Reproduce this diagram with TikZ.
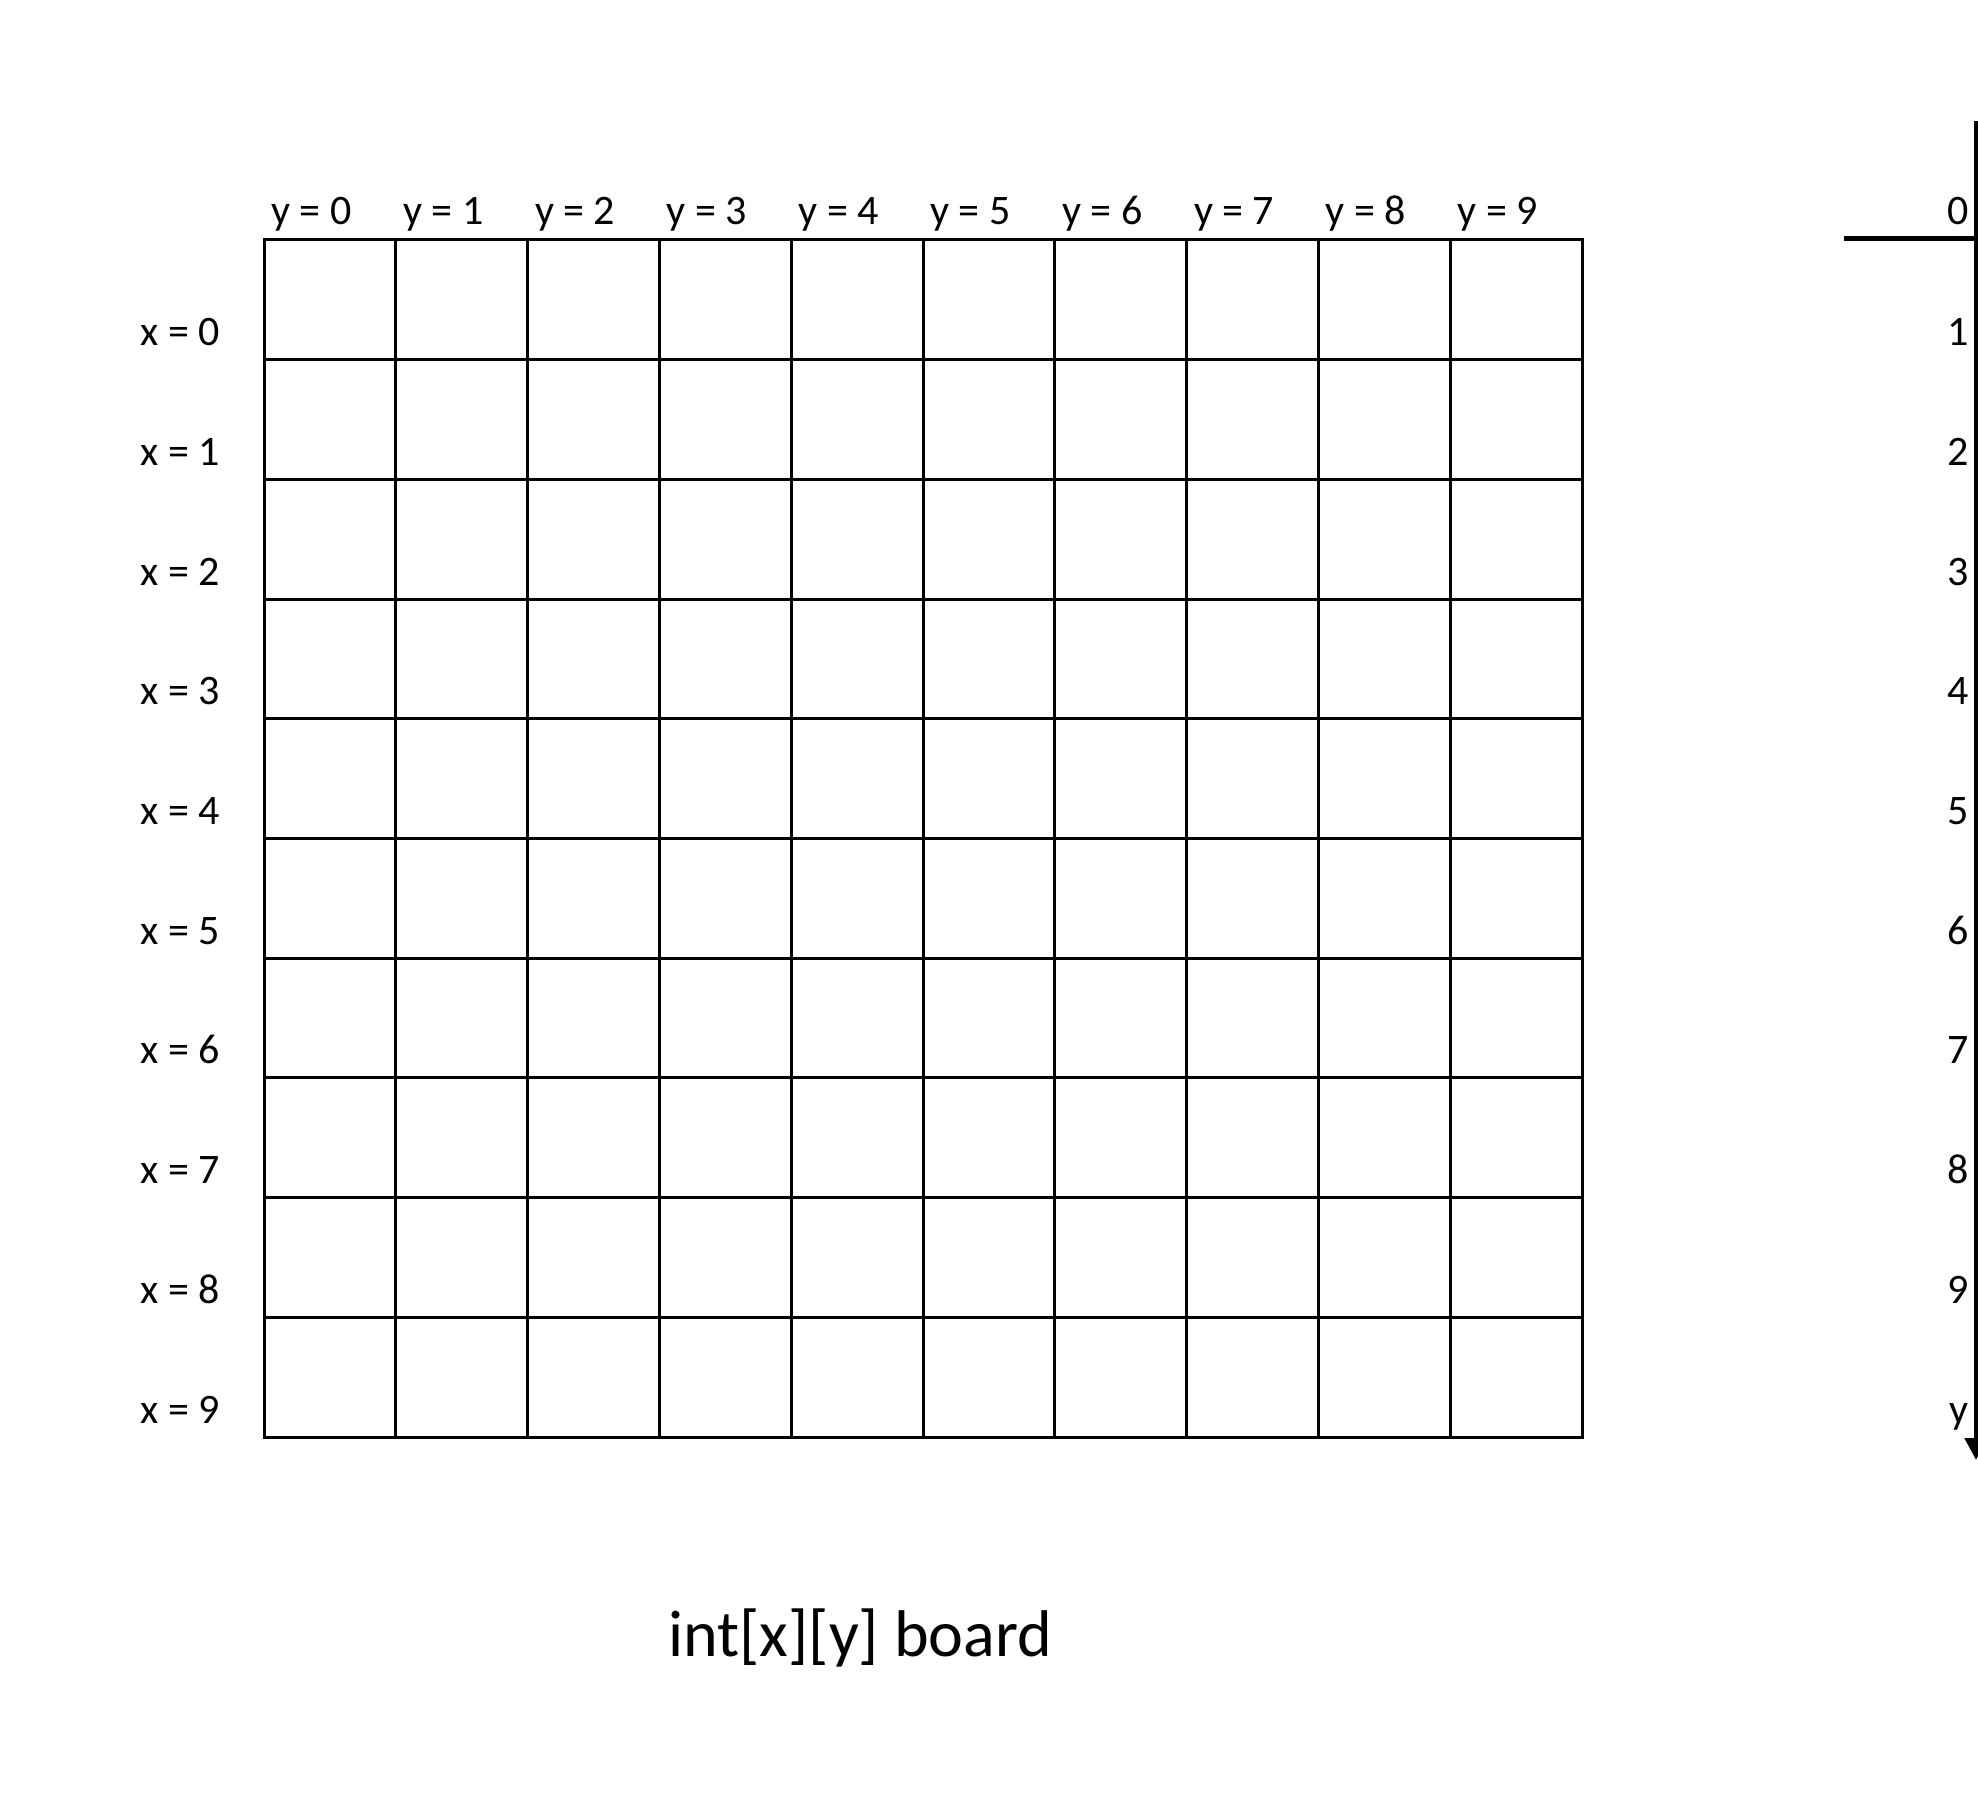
\documentclass[tikz,border=0pt]{standalone}
\usepackage{fontspec}
\setmainfont{Carlito}
\usetikzlibrary{arrows.meta}
\begin{document}
\begin{tikzpicture}[x=0.5pt,y=-0.5pt,
  gridline/.style={line width=1.5pt,line cap=rect},
  axisline/.style={line width=2.5pt},
  lbl/.style={inner sep=0pt,font=\fontsize{21}{25}\selectfont},
  ttl/.style={inner sep=0pt,font=\fontsize{33}{39}\selectfont}]
\useasboundingbox (0,0) rectangle (1978,1797);
\fill[white] (0,0) rectangle (1978,1797);
% grid
\foreach \i in {0,...,10} {
  \draw[gridline] ({264+\i*131.8},240) -- ({264+\i*131.8},1437);
  \draw[gridline] (264,{240+\i*119.7}) -- (1582,{240+\i*119.7});
}
% column labels
\foreach \i in {0,...,9} {
  \node[lbl,anchor=base west] (ylab\i) at ({271+\i*131.8},225) {y = \i};
}
% row labels
\foreach \i in {0,...,9} {
  \node[lbl,anchor=base west] (xlab\i) at (140,{240+(\i+1)*119.7-14}) {x = \i};
}
% axis labels
\node[lbl,anchor=base east] (ax0) at (1969,225) {0};
\foreach \i in {1,...,9} {
  \node[lbl,anchor=base east] (ax\i) at (1969,{240+\i*119.7-14}) {\i};
}
\node[lbl,anchor=base east] (axy) at (1969,{240+10*119.7-14}) {y};
% axis
\coordinate (atop) at (1976,121);
\coordinate (abot) at (1976,1460);
\coordinate (hleft) at (1844,239);
\coordinate (hright) at (1978.5,239);
\draw[axisline,-{Triangle[width=11pt,length=11pt]}] (atop) -- (abot);
\draw[axisline] (hleft) -- (hright);
% title
\node[ttl,anchor=base west] (title) at (668,1656) {int[x][y] board};
\end{tikzpicture}
\end{document}
